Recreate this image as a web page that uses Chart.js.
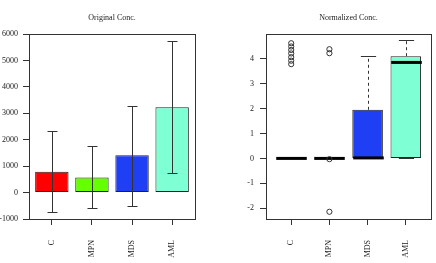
<!doctype html>
<html lang="en">
<head>
<meta charset="utf-8">
<title>Original vs Normalized Conc.</title>
<style>
  * { margin: 0; padding: 0; }
  body { background: #fff; }
  .wrap { position: relative; width: 436px; height: 263px; }
  .wrap canvas { position: absolute; top: 0; }
</style>
</head>
<body>
<div class="wrap">
  <canvas id="origChart" width="218" height="263" style="left:0"></canvas>
  <canvas id="normChart" width="218" height="263" style="left:218px"></canvas>
</div>
<script src="https://cdn.jsdelivr.net/npm/chart.js"></script>
<script>
// groups
const groups = ['C', 'MPN', 'MDS', 'AML'];
const groupColors = ['#ff0000', '#66ff00', '#1f3ff5', '#7fffd4'];

// Original Conc.: bar height plus error bar ends
const origMean = [790, 570, 1410, 3230];
const origLow = [-735, -580, -505, 730];
const origHigh = [2330, 1765, 3270, 5750];
const origTicks = [-1000, 0, 1000, 2000, 3000, 4000, 5000, 6000];
const barPos = [0.7, 1.9, 3.1, 4.3];

// Normalized Conc.: boxplot stats
const normMin = [0, 0, 0, 0];
const normQ1 = [0, 0, 0, 0];
const normMed = [0, 0, 0.02, 3.85];
const normQ3 = [0, 0, 1.95, 4.1];
const normMax = [0, 0, 4.1, 4.76];
const outC = [4.62, 4.49, 4.35, 4.21, 4.06, 3.92, 3.78];
const outMPN = [4.38, 4.22, -0.03, -2.14];
const normTicks = [-2, -1, 0, 1, 2, 3, 4];
const boxPos = [1, 2, 3, 4];

const serif = "'Liberation Serif', 'Times New Roman', serif";
Chart.defaults.font.family = serif;
Chart.defaults.font.size = 8;
Chart.defaults.color = '#222';

// box around plot + title above it
const frameTitle = {
    id: 'frameTitle',
    afterDraw(chart, args, opts) {
        const {ctx, chartArea: {left, top, right, bottom}} = chart;
        ctx.save();
        ctx.strokeStyle = '#333';
        ctx.lineWidth = 1;
        ctx.strokeRect(Math.round(left) + 0.5, Math.round(top) + 0.5,
            Math.round(right - left), Math.round(bottom - top));
        ctx.fillStyle = '#222';
        ctx.font = '8px ' + serif;
        ctx.textAlign = 'center';
        ctx.textBaseline = 'alphabetic';
        ctx.fillText(opts.text, (left + right) / 2, 20);
        ctx.restore();
    }
};

// error bars on the left chart
const errorBars = {
    id: 'errorBars',
    afterDatasetsDraw(chart) {
        const {ctx, scales: {x, y}} = chart;
        ctx.save();
        ctx.strokeStyle = '#333';
        ctx.lineWidth = 1;
        barPos.forEach((p, i) => {
            const px = Math.round(x.getPixelForValue(p)) + 0.5;
            const lo = Math.round(y.getPixelForValue(origLow[i])) + 0.5;
            const hi = Math.round(y.getPixelForValue(origHigh[i])) + 0.5;
            ctx.beginPath();
            ctx.moveTo(px, lo); ctx.lineTo(px, hi);
            ctx.moveTo(px - 5, lo); ctx.lineTo(px + 5, lo);
            ctx.moveTo(px - 5, hi); ctx.lineTo(px + 5, hi);
            ctx.stroke();
        });
        ctx.restore();
    }
};

// whiskers, staples and medians, drawn right after the boxes
const boxParts = {
    id: 'boxParts',
    afterDatasetDraw(chart, args) {
        if (args.meta.type !== 'bar') return;
        const {ctx, scales: {x, y}} = chart;
        const unit = x.getPixelForValue(2) - x.getPixelForValue(1);
        const boxHalf = unit * 0.4;
        const stapleHalf = unit * 0.2;
        ctx.save();
        boxPos.forEach((p, i) => {
            const cx = Math.round(x.getPixelForValue(p)) + 0.5;
            const yq1 = y.getPixelForValue(normQ1[i]);
            const yq3 = y.getPixelForValue(normQ3[i]);
            const ymin = y.getPixelForValue(normMin[i]);
            const ymax = y.getPixelForValue(normMax[i]);
            ctx.strokeStyle = '#333';
            ctx.lineWidth = 1;
            ctx.setLineDash([3, 3]);
            ctx.beginPath();
            ctx.moveTo(cx, yq3); ctx.lineTo(cx, ymax);
            ctx.moveTo(cx, yq1); ctx.lineTo(cx, ymin);
            ctx.stroke();
            ctx.setLineDash([]);
            ctx.beginPath();
            ctx.moveTo(cx - stapleHalf, Math.round(ymax) + 0.5);
            ctx.lineTo(cx + stapleHalf, Math.round(ymax) + 0.5);
            ctx.moveTo(cx - stapleHalf, Math.round(ymin) + 0.5);
            ctx.lineTo(cx + stapleHalf, Math.round(ymin) + 0.5);
            ctx.stroke();
            // median
            ctx.strokeStyle = '#000';
            ctx.lineWidth = 3;
            ctx.beginPath();
            const ym = y.getPixelForValue(normMed[i]);
            ctx.moveTo(cx - boxHalf, ym);
            ctx.lineTo(cx + boxHalf, ym);
            ctx.stroke();
        });
        ctx.restore();
    }
};

function tickSetter(values) {
    return scale => { scale.ticks = values.map(v => ({value: v})); };
}

const tickGrid = {drawOnChartArea: false, tickLength: 6, color: '#333', lineWidth: 1, offset: false};

// left: Original Conc.
new Chart(document.getElementById('origChart'), {
    type: 'bar',
    data: {
        datasets: [{
            data: barPos.map((p, i) => ({x: p, y: origMean[i]})),
            backgroundColor: groupColors,
            borderColor: '#222',
            borderWidth: 1,
            borderSkipped: false,
            barPercentage: 1 / 1.2,
            categoryPercentage: 1
        }]
    },
    options: {
        responsive: false,
        animation: false,
        layout: {padding: {top: 34, right: 23, left: 0, bottom: 0}},
        plugins: {
            legend: {display: false},
            tooltip: {enabled: false},
            frameTitle: {text: 'Original Conc.'}
        },
        scales: {
            x: {
                type: 'linear',
                offset: false,
                min: 0.016,
                max: 4.984,
                afterBuildTicks: tickSetter(barPos),
                afterFit: s => { s.height = 44; },
                ticks: {
                    autoSkip: false,
                    minRotation: 90,
                    maxRotation: 90,
                    padding: 15,
                    callback: (v, i) => groups[i]
                },
                grid: tickGrid,
                border: {display: false}
            },
            y: {
                min: -1000,
                max: 6000,
                afterBuildTicks: tickSetter(origTicks),
                afterFit: s => { s.width = 29; },
                ticks: {padding: 5, callback: v => String(v)},
                grid: tickGrid,
                border: {display: false}
            }
        }
    },
    plugins: [frameTitle, errorBars]
});

// right: Normalized Conc.
const outliers = outC.map(v => ({x: boxPos[0], y: v}))
    .concat(outMPN.map(v => ({x: boxPos[1], y: v})));

new Chart(document.getElementById('normChart'), {
    type: 'bar',
    data: {
        datasets: [{
            type: 'bar',
            order: 1,
            data: boxPos.map((p, i) => ({x: p, y: [normQ1[i], normQ3[i]]})),
            backgroundColor: groupColors,
            borderColor: '#222',
            borderWidth: 1,
            borderSkipped: false,
            barPercentage: 0.8,
            categoryPercentage: 1
        }, {
            type: 'scatter',
            order: 0,
            data: outliers,
            pointStyle: 'circle',
            pointRadius: 2.6,
            pointBorderWidth: 1,
            pointBorderColor: '#333',
            pointBackgroundColor: 'rgba(0,0,0,0)'
        }]
    },
    options: {
        responsive: false,
        animation: false,
        layout: {padding: {top: 34, right: 4, left: 0, bottom: 0}},
        plugins: {
            legend: {display: false},
            tooltip: {enabled: false},
            frameTitle: {text: 'Normalized Conc.'}
        },
        scales: {
            x: {
                type: 'linear',
                offset: false,
                min: 0.34,
                max: 4.66,
                afterBuildTicks: tickSetter(boxPos),
                afterFit: s => { s.height = 44; },
                ticks: {
                    autoSkip: false,
                    minRotation: 90,
                    maxRotation: 90,
                    padding: 15,
                    callback: (v, i) => groups[i]
                },
                grid: tickGrid,
                border: {display: false}
            },
            y: {
                min: -2.43,
                max: 4.99,
                afterBuildTicks: tickSetter(normTicks),
                afterFit: s => { s.width = 48; },
                ticks: {padding: 6, callback: v => String(v)},
                grid: tickGrid,
                border: {display: false}
            }
        }
    },
    plugins: [frameTitle, boxParts]
});
</script>
</body>
</html>
